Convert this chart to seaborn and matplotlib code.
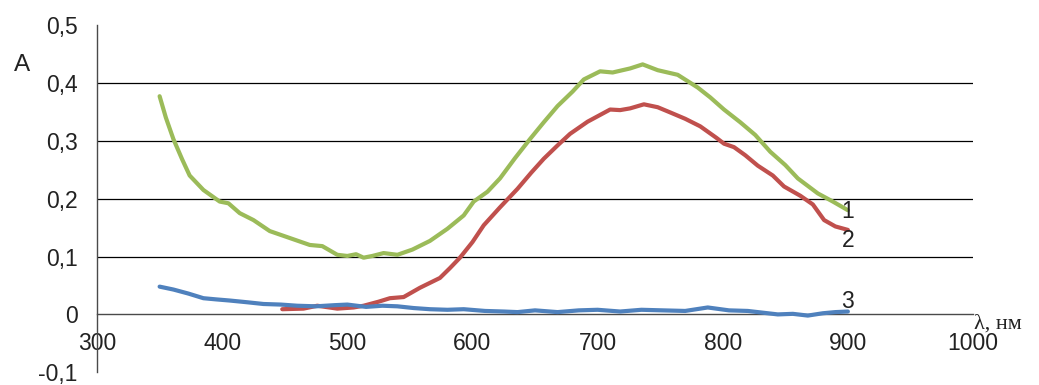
"""
Спектры поглощения (кривые 1-3), перерисовка графика.

    python plot.py
"""

import matplotlib
matplotlib.use("Agg")

import matplotlib.pyplot as plt
import pandas as pd
import seaborn as sns
from matplotlib.ticker import FuncFormatter

# --- кривая 1 (зелёная) ----------------------------------------------------
x1 = [350, 355, 361, 368, 374, 385, 398, 405, 414, 425, 438, 454, 470, 480,
      492, 500, 507, 513, 520, 529, 540, 552, 566, 580, 593, 601, 612, 622,
      634, 646, 657, 668, 680, 689, 702, 712, 726, 736, 748, 764, 780, 790,
      801, 814, 826, 838, 850, 860, 876, 888, 900]
y1 = [0.377, 0.34, 0.303, 0.268, 0.24, 0.215, 0.195, 0.192, 0.175, 0.163,
      0.144, 0.132, 0.12, 0.118, 0.103, 0.101, 0.104, 0.098, 0.101, 0.106,
      0.103, 0.112, 0.127, 0.148, 0.171, 0.195, 0.212, 0.235, 0.27, 0.303,
      0.332, 0.36, 0.385, 0.406, 0.42, 0.418, 0.425, 0.432, 0.422, 0.414,
      0.392, 0.375, 0.354, 0.332, 0.31, 0.281, 0.258, 0.235, 0.209, 0.195,
      0.18]

# --- кривая 2 (красная) ----------------------------------------------------
x2 = [448, 465, 476, 492, 505, 513, 525, 534, 545, 558, 574, 582, 590, 600,
      609, 622, 636, 647, 657, 668, 678, 692, 710, 718, 726, 737, 748, 758,
      770, 782, 795, 801, 809, 818, 828, 840, 849, 862, 872, 881, 890, 900]
y2 = [0.009, 0.01, 0.015, 0.01, 0.012, 0.015, 0.022, 0.028, 0.03, 0.046,
      0.063, 0.08, 0.098, 0.125, 0.154, 0.185, 0.217, 0.245, 0.269, 0.292,
      0.312, 0.333, 0.354, 0.353, 0.356, 0.363, 0.358, 0.349, 0.338, 0.325,
      0.305, 0.295, 0.289, 0.275, 0.257, 0.24, 0.221, 0.205, 0.19, 0.163,
      0.152, 0.146]

# --- кривая 3 (синяя) ------------------------------------------------------
x3 = [350, 361, 373, 385, 395, 406, 420, 433, 447, 460, 475, 490, 500, 515,
      528, 540, 553, 566, 580, 593, 610, 625, 636, 650, 668, 685, 700, 718,
      735, 752, 770, 788, 805, 820, 832, 844, 856, 868, 880, 890, 900]
y3 = [0.048, 0.043, 0.036, 0.028, 0.026, 0.024, 0.021, 0.018, 0.017, 0.015,
      0.014, 0.016, 0.017, 0.013, 0.015, 0.014, 0.011, 0.009, 0.008, 0.009,
      0.006, 0.005, 0.004, 0.007, 0.004, 0.007, 0.008, 0.005, 0.008, 0.007,
      0.006, 0.012, 0.007, 0.006, 0.003, 0.0, 0.001, -0.002, 0.002, 0.004,
      0.005]

nomes = ["1", "2", "3"]
cores = {"1": "#9BBB59", "2": "#C0504D", "3": "#4F81BD"}
rotulo_pos = {"1": (900, 0.178), "2": (900, 0.128), "3": (900, 0.022)}
grade_y = [0.1, 0.2, 0.3, 0.4]
x_ticks = [300, 400, 500, 600, 700, 800, 900, 1000]
y_ticks = [-0.1, 0, 0.1, 0.2, 0.3, 0.4, 0.5]

df = pd.concat([
    pd.DataFrame({"x": x1, "y": y1, "curva": "1"}),
    pd.DataFrame({"x": x2, "y": y2, "curva": "2"}),
    pd.DataFrame({"x": x3, "y": y3, "curva": "3"}),
])

sns.set_style("white")
plt.rcParams["font.family"] = ["Liberation Sans", "DejaVu Sans"]

fig = plt.figure(figsize=(10.39, 3.85), dpi=100)
ax = fig.add_axes([0.0934, 0.033, 0.8431, 0.902])

for v in grade_y:
    ax.axhline(v, color="black", lw=0.9, zorder=1)

sns.lineplot(data=df, x="x", y="y", hue="curva", palette=cores,
             estimator=None, sort=False, lw=3.0, legend=False, ax=ax, zorder=3)

for n in nomes:
    px, py = rotulo_pos[n]
    ax.text(px, py, n, fontsize=16.5, ha="center", va="center",
            color="#222222", zorder=4)

ax.set_xlim(300, 1000)
ax.set_ylim(-0.1, 0.5)
ax.set_xticks(x_ticks)
ax.set_yticks(y_ticks)
fmt = FuncFormatter(lambda v, _: f"{v:g}".replace(".", ","))
ax.yaxis.set_major_formatter(fmt)
ax.set_xlabel("")
ax.set_ylabel("")

for lado in ["top", "right"]:
    ax.spines[lado].set_visible(False)
ax.spines["bottom"].set_position(("data", 0))
for lado in ["bottom", "left"]:
    ax.spines[lado].set_color("#4a4a4a")
    ax.spines[lado].set_linewidth(1.0)
ax.tick_params(axis="both", direction="out", length=7, width=1.0,
               color="#4a4a4a", labelsize=16.5, labelcolor="#222222")
ax.tick_params(axis="y", pad=7)
ax.tick_params(axis="x", pad=6)

fig.text(0.021, 1 - 65 / 385, "A", fontsize=17.5, ha="center", va="center",
         color="#222222")
fig.text(0.937, 1 - 329 / 385, "λ, нм", fontsize=16, ha="left",
         va="baseline", family=["Liberation Serif", "DejaVu Serif"],
         color="#222222")

fig.savefig("out.png", dpi=100)
plt.close(fig)
